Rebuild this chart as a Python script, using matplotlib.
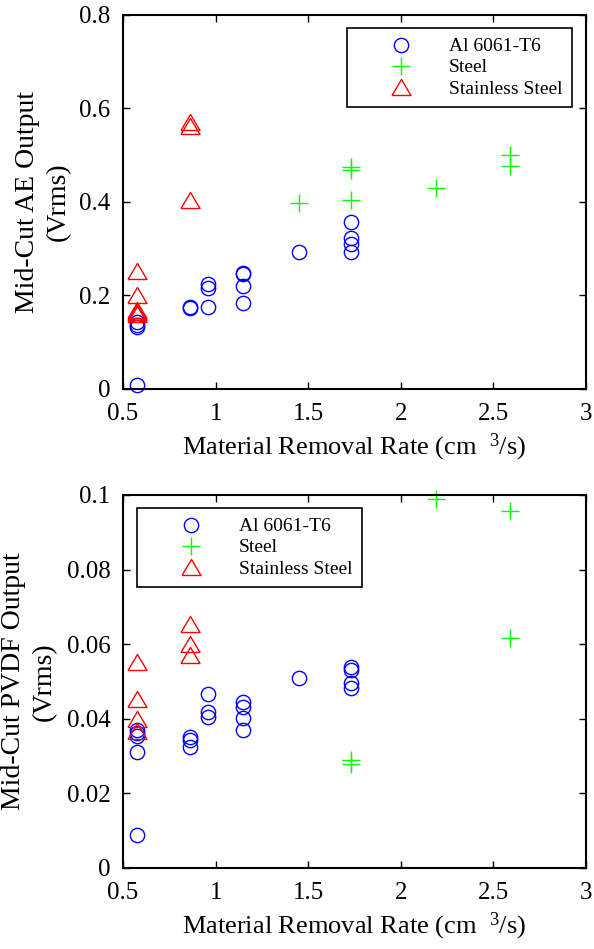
import matplotlib
matplotlib.use("Agg")
import matplotlib.pyplot as plt
from matplotlib.ticker import FormatStrFormatter

plt.rcParams['font.family'] = ['Liberation Serif', 'DejaVu Serif']
plt.rcParams['mathtext.fontset'] = 'custom'
plt.rcParams['mathtext.rm'] = 'Liberation Serif'
plt.rcParams['mathtext.it'] = 'Liberation Serif:italic'

# ---- measured data -------------------------------------------------------
series_names = ['Al 6061-T6', 'Steel', 'Stainless Steel']

# Mid-cut AE output (Vrms) versus material removal rate (cm^3/s)
al_ae_x = [0.577, 0.577, 0.577, 0.577, 0.864, 0.864, 0.96, 0.96, 0.96,
           1.15, 1.15, 1.15, 1.15, 1.45, 1.73, 1.73, 1.73, 1.73]
al_ae_y = [0.143, 0.137, 0.133, 0.009, 0.176, 0.173, 0.224, 0.217, 0.175,
           0.249, 0.245, 0.221, 0.183, 0.292, 0.358, 0.324, 0.310, 0.294]
steel_ae_x = [1.45, 1.73, 1.73, 1.73, 2.19, 2.59, 2.59]
steel_ae_y = [0.397, 0.474, 0.468, 0.404, 0.429, 0.500, 0.476]
ss_ae_x = [0.577, 0.577, 0.577, 0.577, 0.577, 0.864, 0.864, 0.864]
ss_ae_y = [0.252, 0.200, 0.170, 0.165, 0.161, 0.572, 0.562, 0.405]

# Mid-cut PVDF output (Vrms) versus material removal rate (cm^3/s)
al_pv_x = [0.577, 0.577, 0.577, 0.577, 0.577, 0.864, 0.864, 0.864,
           0.96, 0.96, 0.96, 1.15, 1.15, 1.15, 1.15, 1.45,
           1.73, 1.73, 1.73, 1.73]
al_pv_y = [0.0370, 0.0362, 0.0355, 0.0310, 0.0089, 0.0350, 0.0343, 0.0325,
           0.0466, 0.0419, 0.0406, 0.0446, 0.0431, 0.0403, 0.0370, 0.0510,
           0.0540, 0.0531, 0.0495, 0.0482]
steel_pv_x = [1.73, 1.73, 2.19, 2.59, 2.59]
steel_pv_y = [0.0290, 0.0280, 0.0990, 0.0958, 0.0616]
ss_pv_x = [0.577, 0.577, 0.577, 0.577, 0.864, 0.864, 0.864]
ss_pv_y = [0.0552, 0.0452, 0.0399, 0.0366, 0.0654, 0.0600, 0.0571]

x_ticks = [0.5, 1, 1.5, 2, 2.5, 3]
ae_ticks = [0, 0.2, 0.4, 0.6, 0.8]
pv_ticks = [0, 0.02, 0.04, 0.06, 0.08, 0.1]

x_label = 'Material Removal Rate (cm  $^{\\mathrm{3}}$/s)'
ae_label = 'Mid-Cut AE Output\n(Vrms)'
pv_label = 'Mid-Cut PVDF Output\n(Vrms)'

# ---- drawing -------------------------------------------------------------
# a triangle a little wider than tall
tri = [(-1.0, -0.84), (1.0, -0.84), (0.0, 0.84), (-1.0, -0.84)]

TICK_FS = 18
XLAB_FS = 19
YLAB_FS = 20
fig = plt.figure(figsize=(5.94, 9.49), dpi=100)
ax_top = fig.add_axes([0.2071, 0.5901, 0.7795, 0.3941])
ax_bot = fig.add_axes([0.2071, 0.0854, 0.7795, 0.3930])


def draw(ax, al, st, ss, yticks, ylabel, label_x, legend_loc, legend_anchor):
    ax.plot(al[0], al[1], linestyle='none', marker='o', ms=10.3,
            mfc='none', mec='#0000ff', mew=1.0, label=series_names[0],
            clip_on=False)
    ax.plot(st[0], st[1], linestyle='none', marker='+', ms=12.5,
            mec='#00ff00', mew=1.0, label=series_names[1], clip_on=False)
    ax.plot(ss[0], ss[1], linestyle='none', marker=tri, ms=13.7,
            mfc='none', mec='#ff0000', mew=1.0, label=series_names[2],
            clip_on=False)
    ax.set_xlim(x_ticks[0], x_ticks[-1])
    ax.set_ylim(yticks[0], yticks[-1])
    ax.set_xticks(x_ticks)
    ax.set_yticks(yticks)
    ax.xaxis.set_major_formatter(FormatStrFormatter('%g'))
    ax.yaxis.set_major_formatter(FormatStrFormatter('%g'))
    ax.tick_params(direction='in', length=5, width=1.0, top=True,
                   right=True, labelsize=TICK_FS)
    ax.tick_params(axis='x', pad=10)
    ax.tick_params(axis='y', pad=9)
    for s in ax.spines.values():
        s.set_linewidth(1.5)
    ax.set_xlabel(x_label, fontsize=XLAB_FS, labelpad=5)
    ax.set_ylabel(ylabel, fontsize=YLAB_FS, linespacing=1.3, va='center')
    ax.yaxis.set_label_coords(label_x, 0.5)
    leg = ax.legend(loc=legend_loc, bbox_to_anchor=legend_anchor,
                    fontsize=14, frameon=True, fancybox=False,
                    handlelength=4.6, handletextpad=0.15, borderpad=0.5,
                    labelspacing=0.18, borderaxespad=0.0, numpoints=1)
    leg.get_frame().set_edgecolor('black')
    leg.get_frame().set_linewidth(1.2)
    leg.get_frame().set_alpha(1.0)


draw(ax_top, (al_ae_x, al_ae_y), (steel_ae_x, steel_ae_y),
     (ss_ae_x, ss_ae_y), ae_ticks, ae_label, -0.173,
     'upper right', (0.9698, 0.9652))
draw(ax_bot, (al_pv_x, al_pv_y), (steel_pv_x, steel_pv_y),
     (ss_pv_x, ss_pv_y), pv_ticks, pv_label, -0.203,
     'upper left', (0.0302, 0.9651))

fig.savefig('out.png', dpi=100)
